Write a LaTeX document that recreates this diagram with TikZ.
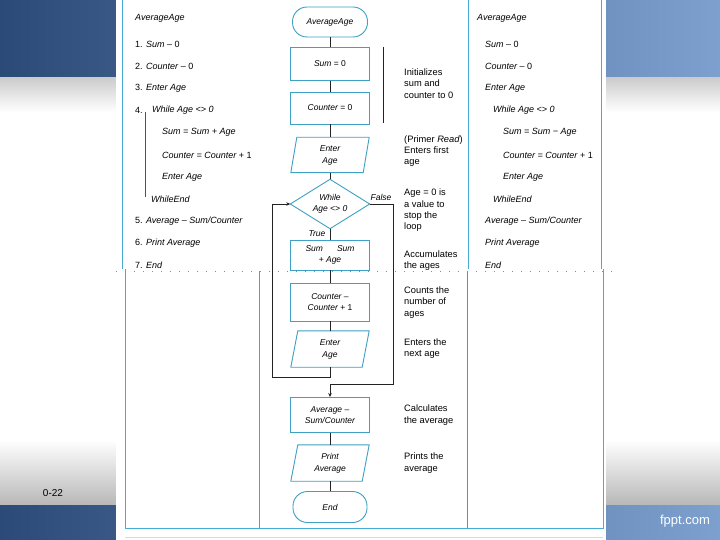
\documentclass[tikz,border=0pt]{standalone}
\usepackage{fontspec}
\setmainfont{Liberation Sans}
\usetikzlibrary{arrows.meta}
\definecolor{bandL}{RGB}{44,74,120}
\definecolor{bandM}{RGB}{50,84,132}
\definecolor{bandR}{RGB}{125,160,206}
\definecolor{boxc}{RGB}{62,160,196}
\definecolor{framec}{RGB}{70,172,214}
\definecolor{linec}{RGB}{35,35,35}
\definecolor{divc}{RGB}{140,140,140}
\begin{document}
\begin{tikzpicture}[x=1pt,y=-1pt,
  boxline/.style={draw=boxc, line width=0.9pt},
  term/.style={boxline, rounded corners=14.5pt, minimum width=75pt, minimum height=30pt, inner sep=0pt, align=center, font=\fontsize{8.5}{11.5}\selectfont\itshape},
  proc/.style={boxline, minimum width=79pt, minimum height=34pt, inner sep=0pt, align=center, font=\fontsize{8.5}{11.5}\selectfont\itshape},
  iobox/.style={minimum width=78pt, minimum height=36pt, inner sep=0pt, align=center, font=\fontsize{8.5}{12}\selectfont\itshape},
  dnode/.style={minimum width=79pt, minimum height=49pt, inner sep=0pt, align=center, font=\fontsize{8.5}{10.5}\selectfont\itshape},
  conn/.style={draw=linec, line width=0.6pt},
  arr/.style={conn, -{Stealth[length=4pt,width=3.5pt]}},
  pc/.style={anchor=west, inner sep=0pt, font=\fontsize{9}{11}\selectfont},
  desc/.style={anchor=west, inner sep=0pt, align=left, font=\fontsize{9.3}{11.3}\selectfont},
  lbl/.style={inner sep=0pt, font=\fontsize{8.5}{10}\selectfont\itshape},
  frame/.style={draw=framec, line width=0.9pt},
  brk/.style={draw=linec, line width=0.6pt}
]
\useasboundingbox (0,0) rectangle (720,540);
% slide background
\fill[white] (0,0) rectangle (720,540);
\shade[left color=bandL, middle color=bandM, right color=bandR] (0,0) rectangle (720,78);
\shade[top color=black!20, bottom color=white] (0,78) rectangle (720,112);
\shade[top color=white, bottom color=black!28] (0,440) rectangle (720,505);
\shade[left color=bandL, middle color=bandM, right color=bandR] (0,505) rectangle (720,540);
\node[inner sep=0pt, font=\fontsize{10}{12}\selectfont] (pg) at (53,493) {0-22};
\node[inner sep=0pt, text=white, font=\fontsize{13}{15}\selectfont] (fp) at (685,521) {fppt.com};
% paper
\fill[white] (116,0) rectangle (606,540);
% frames of the two scanned parts
\draw[frame] (122,0) -- (122,269);
\draw[frame] (468,0) -- (468,269);
\draw[frame] (601,0) -- (601,269);
\draw[frame] (125,269) -- (125,528) -- (603,528) -- (603,269);
\draw[draw=divc, line width=0.7pt] (259,271) -- (259,528);
\draw[draw=boxc!70!gray, line width=0.7pt] (467,271) -- (467,528);
\draw[draw=black!15, line width=0.5pt] (125,537) -- (603,537);
\draw[black!45, line width=0.9pt, dash pattern=on 1pt off 8pt] (116,271) -- (612,271);
% brackets
\draw[brk] (383,47) -- (383,123);
\draw[draw=boxc!60!black, line width=0.7pt] (145,112) -- (145,197);

% left pseudocode
\node[pc] (l0) at (135,18) {\itshape AverageAge};
\node[pc] (l1) at (135,44) {1. \textit{Sum} – 0};
\node[pc] (l2) at (135,66) {2. \textit{Counter} – 0};
\node[pc] (l3) at (135,88) {3. \textit{Enter Age}};
\node[pc] (l4) at (135,110) {4.};
\node[pc] (l4b) at (152,110) {\itshape While Age <> 0};
\node[pc] (l5) at (162,132) {\itshape Sum = Sum + Age};
\node[pc] (l6) at (162,155) {\itshape Counter = Counter \upshape + 1};
\node[pc] (l7) at (162,177) {\itshape Enter Age};
\node[pc] (l8) at (151,199) {\itshape WhileEnd};
\node[pc] (l9) at (135,221) {5. \textit{Average – Sum/Counter}};
\node[pc] (l10) at (135,243) {6. \textit{Print Average}};
\node[pc] (l11) at (135,265) {7. \textit{End}};

% right pseudocode
\node[pc] (r0) at (477,18) {\itshape AverageAge};
\node[pc] (r1) at (485,44) {\itshape Sum \upshape – 0};
\node[pc] (r2) at (485,66) {\itshape Counter \upshape – 0};
\node[pc] (r3) at (485,88) {\itshape Enter Age};
\node[pc] (r4) at (493,110) {\itshape While Age <> 0};
\node[pc] (r5) at (503,132) {\itshape Sum = Sum − Age};
\node[pc] (r6) at (503,155) {\itshape Counter = Counter \upshape + 1};
\node[pc] (r7) at (503,177) {\itshape Enter Age};
\node[pc] (r8) at (493,199) {\itshape WhileEnd};
\node[pc] (r9) at (485,221) {\itshape Average – Sum/Counter};
\node[pc] (r10) at (485,243) {\itshape Print Average};
\node[pc] (r11) at (485,265) {\itshape End};

% flowchart
\node[term] (start) at (330,22) {AverageAge};
\node[proc, minimum height=33pt] (s0) at (330,64) {Sum \upshape= 0};
\node[proc, minimum height=32pt] (c0) at (330,108) {Counter \upshape= 0};
\node[iobox, minimum height=35pt] (in1) at (330,155) {Enter\\Age};
\draw[boxline] ([xshift=6pt]in1.north west) -- (in1.north east) -- ([xshift=-6pt]in1.south east) -- (in1.south west) -- cycle;
\node[dnode] (dec) at (330,204) {While\\Age <> 0};
\draw[boxline] (dec.north) -- (dec.east) -- (dec.south) -- (dec.west) -- cycle;
\node[proc, minimum height=30pt] (sum) at (330,255) {Sum\hspace{14pt}Sum\\\upshape + \itshape Age};
\node[proc, minimum height=38pt] (cnt) at (330,302) {Counter \upshape –\\Counter \upshape + 1};
\node[iobox] (in2) at (330,349) {Enter\\Age};
\draw[boxline] ([xshift=7pt]in2.north west) -- (in2.north east) -- ([xshift=-7pt]in2.south east) -- (in2.south west) -- cycle;
\node[proc, minimum height=35pt] (avg) at (330,415) {Average \upshape –\\Sum/Counter};
\node[iobox] (pr) at (330,463) {Print\\Average};
\draw[boxline] ([xshift=7pt]pr.north west) -- (pr.north east) -- ([xshift=-7pt]pr.south east) -- (pr.south west) -- cycle;
\node[term, minimum height=31pt, minimum width=74pt] (end) at (330,507) {End};

\node[lbl] (fl) at (381,197) {False};
\node[lbl] (tl) at (317,234) {True};

\coordinate (lb) at (272,377);
\coordinate (lt) at (272,204);
\coordinate (fr) at (393,204);
\coordinate (fb) at (393,384);
\coordinate (fm) at (330,384);

\draw[conn] (start) -- (s0);
\draw[conn] (s0) -- (c0);
\draw[conn] (c0) -- (in1);
\draw[conn] (in1) -- (dec.north);
\draw[conn] (dec.south) -- (sum);
\draw[conn] (sum) -- (cnt);
\draw[conn] (cnt) -- (in2);
\draw[conn] (in2.south) |- (lb) -- (lt);
\draw[arr] (lt) -- (dec.west);
\draw[conn] (dec.east) -- (fr) -- (fb) -- (fm);
\draw[arr] (fm) -- (avg.north);
\draw[conn] (avg) -- (pr);
\draw[conn] (pr) -- (end);

% descriptions
\node[desc] (d1) at (404,83.5) {Initializes\\sum and\\counter to 0};
\node[desc] (d2) at (404,151) {(Primer \textit{Read})\\Enters first\\age};
\node[desc] (d3) at (404,210.5) {Age = 0 is\\a value to\\stop the\\loop};
\node[desc] (d4) at (404,260.5) {Accumulates\\the ages};
\node[desc] (d5) at (404,302.5) {Counts the\\number of\\ages};
\node[desc] (d6) at (404,348.5) {Enters the\\next age};
\node[desc] (d7) at (404,415) {Calculates\\the average};
\node[desc] (d8) at (404,463) {Prints the\\average};
\end{tikzpicture}
\end{document}
